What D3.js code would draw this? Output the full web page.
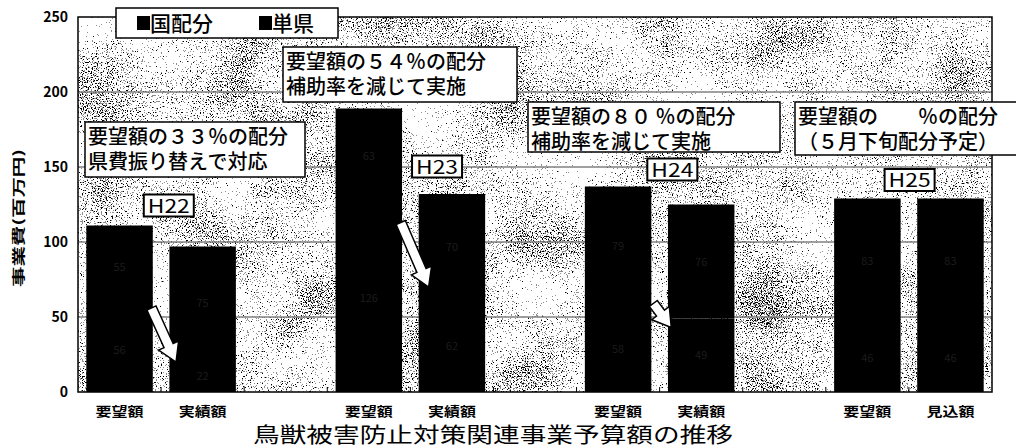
<!DOCTYPE html>
<html lang="ja">
<head>
<meta charset="utf-8">
<script src="https://cdn.jsdelivr.net/npm/d3@7/dist/d3.min.js"></script>
<style>
  html, body { margin: 0; padding: 0; background: #fff; }
  svg { display: block; }
  text { font-family: "Noto Sans CJK JP", "Noto Sans", sans-serif; }
</style>
</head>
<body>
<svg id="chart" width="1016" height="446"></svg>
<script>
// Slots along the x axis; the "gap" slots keep the fiscal-year pairs apart.
const slots = ["H22-要望額", "H22-実績額", "gap1",
               "H23-要望額", "H23-実績額", "gap2",
               "H24-要望額", "H24-実績額", "gap3",
               "H25-要望額", "H25-見込額"];
const tickLabels = ["要望額", "実績額", "", "要望額", "実績額", "", "要望額", "実績額", "", "要望額", "見込額"];

// 事業費 (百万円), stacked: 国配分 at the bottom, 単県 on top
const kuniHaibun = [56, 22, null, 126, 62, null, 58, 49, null, 46, 46];
const tanken     = [55, 75, null, 63, 70, null, 79, 76, null, 83, 83];

const seriesNames = ["国配分", "単県"];
const yTicks = [0, 50, 100, 150, 200, 250];

const yearLabels = [
  { text: "H22", slot: "H22-要望額", value: 117, dx: -9 },
  { text: "H23", slot: "H23-要望額", value: 143, dx: 10 },
  { text: "H24", slot: "H24-要望額", value: 141, dx: -4 },
  { text: "H25", slot: "H25-要望額", value: 134, dx: -16 }
];

const notes = [
  { lines: ["要望額の３３％の配分", "県費振り替えで対応"], x: 85, y: 122, w: 220, h: 55 },
  { lines: ["要望額の５４％の配分", "補助率を減じて実施"], x: 283, y: 47, w: 234, h: 55 },
  { lines: ["要望額の８０ ％の配分", "補助率を減じて実施"], x: 528, y: 102, w: 252, h: 50 },
  { lines: ["要望額の　　％の配分", "（５月下旬配分予定）"], x: 795, y: 102, w: 240, h: 53 }
];

// Arrows between request and result bars (band fraction + value on the y scale)
const arrows = [
  { from: ["H22-要望額", 0.98, 56], to: ["H22-実績額", 0.1, 20] },
  { from: ["H23-要望額", 0.98, 113], to: ["H23-実績額", 0.15, 70] },
  { from: ["H24-要望額", 1.03, 59], to: ["H24-実績額", 0.05, 43] }
];

const svg = d3.select("#chart");
const plot = { left: 78, right: 992, top: 17, bottom: 392 };

const x = d3.scaleBand().domain(slots).range([plot.left, plot.right])
  .paddingInner(0.2).paddingOuter(0.1);
const y = d3.scaleLinear().domain([0, 250]).range([plot.bottom, plot.top]);

// speckled plot background: fine grain, lightly modulated by broad patches
const defs = svg.append("defs");
const f = defs.append("filter").attr("id", "grain")
  .attr("x", 0).attr("y", 0).attr("width", "100%").attr("height", "100%")
  .attr("color-interpolation-filters", "sRGB");
const toGray = "1 0 0 0 0  1 0 0 0 0  1 0 0 0 0  0 0 0 0 1";
f.append("feTurbulence").attr("type", "fractalNoise").attr("baseFrequency", "0.8")
  .attr("numOctaves", 2).attr("seed", 7).attr("result", "t1");
f.append("feColorMatrix").attr("in", "t1").attr("type", "matrix").attr("values", toGray).attr("result", "g1");
f.append("feTurbulence").attr("type", "fractalNoise").attr("baseFrequency", "0.015")
  .attr("numOctaves", 3).attr("seed", 11).attr("result", "t2");
f.append("feColorMatrix").attr("in", "t2").attr("type", "matrix").attr("values", toGray).attr("result", "g2");
f.append("feComposite").attr("in", "g1").attr("in2", "g2").attr("operator", "arithmetic")
  .attr("k1", 0).attr("k2", 1).attr("k3", 0.35).attr("k4", -0.175).attr("result", "c");
f.append("feColorMatrix").attr("in", "c").attr("type", "matrix")
  .attr("values", "0 0 0 0 0  0 0 0 0 0  0 0 0 0 0  1.6 0 0 0 -0.36");
const ct = f.append("feComponentTransfer");
ct.append("feFuncA").attr("type", "discrete").attr("tableValues", "0 0 0 0 0 0.45 1 1");

svg.append("rect").attr("x", plot.left).attr("y", plot.top)
  .attr("width", plot.right - plot.left).attr("height", plot.bottom - plot.top)
  .attr("fill", "#fff");
svg.append("rect").attr("x", plot.left).attr("y", plot.top)
  .attr("width", plot.right - plot.left).attr("height", plot.bottom - plot.top)
  .attr("fill", "#000").attr("filter", "url(#grain)");

// gridlines
svg.append("g").selectAll("line").data(yTicks.filter(d => d > 0 && d < 250)).join("line")
  .attr("x1", plot.left).attr("x2", plot.right)
  .attr("y1", d => y(d)).attr("y2", d => y(d))
  .attr("stroke", "#808080").attr("stroke-width", 1.5);

// stacked bars
const rows = slots.map((s, i) => ({ slot: s, "国配分": kuniHaibun[i], "単県": tanken[i] }))
  .filter(r => r["国配分"] != null);
const stacked = d3.stack().keys(seriesNames)(rows);

const layer = svg.append("g").selectAll("g").data(stacked).join("g");
layer.selectAll("rect").data(d => d).join("rect")
  .attr("x", d => x(d.data.slot))
  .attr("width", x.bandwidth())
  .attr("y", d => y(d[1]))
  .attr("height", d => y(d[0]) - y(d[1]))
  .attr("fill", "#000");

// value labels inside the segments (dark on black)
layer.each(function (s) {
  d3.select(this).selectAll("text").data(s).join("text")
    .attr("x", d => x(d.data.slot) + x.bandwidth() / 2)
    .attr("y", d => y((d[0] + d[1]) / 2) + 4)
    .attr("text-anchor", "middle")
    .attr("font-size", 11)
    .attr("fill", "#1c1c1c")
    .text(d => d.data[s.key]);
});

// plot frame
svg.append("rect").attr("x", plot.left).attr("y", plot.top)
  .attr("width", plot.right - plot.left).attr("height", plot.bottom - plot.top)
  .attr("fill", "none").attr("stroke", "#000").attr("stroke-width", 1.5);

// small inner ticks on the category boundaries
const step = x.step();
svg.append("g").selectAll("line").data(slots.slice(1)).join("line")
  .attr("x1", d => x(d) - step * x.paddingInner() / 2)
  .attr("x2", d => x(d) - step * x.paddingInner() / 2)
  .attr("y1", plot.bottom).attr("y2", plot.bottom - 5)
  .attr("stroke", "#000").attr("stroke-width", 1);

// y axis
const yAxis = svg.append("g").attr("transform", `translate(${plot.left},0)`)
  .call(d3.axisLeft(y).tickValues(yTicks).tickSize(0).tickPadding(10));
yAxis.select(".domain").remove();
yAxis.selectAll("text").attr("font-family", "'Liberation Sans', Arial, sans-serif")
  .attr("font-weight", "bold").attr("font-size", 14).attr("fill", "#000");

// x axis labels
const xAxis = svg.append("g").attr("transform", `translate(0,${plot.bottom})`)
  .call(d3.axisBottom(x).tickSize(0).tickPadding(15).tickFormat((d, i) => tickLabels[i]));
xAxis.select(".domain").remove();
xAxis.selectAll("text").attr("font-weight", "bold").attr("font-size", 13).attr("fill", "#000")
  .attr("font-family", "'Noto Sans CJK JP', sans-serif")
  .each(function () { if (this.textContent) d3.select(this).attr("textLength", 48).attr("lengthAdjust", "spacingAndGlyphs"); });

// y axis title
svg.append("text")
  .attr("transform", "translate(23,218) rotate(-90)")
  .attr("text-anchor", "middle")
  .attr("font-weight", "bold").attr("font-size", 13)
  .attr("textLength", 138).attr("lengthAdjust", "spacingAndGlyphs")
  .text("事業費(百万円)");

// chart title under the axis
svg.append("text")
  .attr("x", 253).attr("y", 442)
  .attr("font-size", 21)
  .attr("textLength", 480).attr("lengthAdjust", "spacingAndGlyphs")
  .text("鳥獣被害防止対策関連事業予算額の推移");

// arrows
function pt(a) { return [x(a[0]) + x.bandwidth() * a[1], y(a[2])]; }
svg.append("g").selectAll("path").data(arrows).join("path")
  .attr("d", a => {
    const [x0, y0] = pt(a.from), [x1, y1] = pt(a.to);
    const dx = x1 - x0, dy = y1 - y0, L = Math.hypot(dx, dy);
    const ux = dx / L, uy = dy / L, nx = -uy, ny = ux;
    const hl = Math.min(18, L * 0.6), sw = 5, hw = 11;
    const bx = x1 - ux * hl, by = y1 - uy * hl;
    const p = [
      [x0 + nx * sw, y0 + ny * sw], [bx + nx * sw, by + ny * sw], [bx + nx * hw, by + ny * hw],
      [x1, y1],
      [bx - nx * hw, by - ny * hw], [bx - nx * sw, by - ny * sw], [x0 - nx * sw, y0 - ny * sw]
    ];
    return "M" + p.map(q => q.join(",")).join("L") + "Z";
  })
  .attr("fill", "#fff").attr("stroke", "#000").attr("stroke-width", 1.5);

// year labels
const yl = svg.append("g").selectAll("g").data(yearLabels).join("g")
  .attr("transform", d => `translate(${x(d.slot) + x.bandwidth() + d.dx},${y(d.value)})`);
yl.append("rect").attr("x", 0).attr("y", -22).attr("width", 50).attr("height", 22)
  .attr("fill", "#fff").attr("stroke", "#000").attr("stroke-width", 2);
yl.append("text").attr("x", 4).attr("y", -4)
  .attr("font-family", "'Liberation Sans', Arial, sans-serif").attr("font-size", 18)
  .attr("textLength", 42).attr("lengthAdjust", "spacingAndGlyphs")
  .text(d => d.text);

// note boxes
const nb = svg.append("g").selectAll("g").data(notes).join("g")
  .attr("transform", d => `translate(${d.x},${d.y})`);
nb.append("rect").attr("width", d => d.w).attr("height", d => d.h)
  .attr("fill", "#fff").attr("stroke", "#000").attr("stroke-width", 1.5);
nb.each(function (d) {
  d3.select(this).selectAll("text").data(d.lines).join("text")
    .attr("x", 3).attr("y", (l, i) => 22 + i * 25)
    .attr("font-size", 20).attr("font-weight", 500)
    .text(l => l);
});

// legend
const lg = svg.append("g").attr("transform", "translate(116,8)");
lg.append("rect").attr("width", 222).attr("height", 30)
  .attr("fill", "#fff").attr("stroke", "#000").attr("stroke-width", 1.5);
const li = lg.selectAll("g").data(seriesNames).join("g")
  .attr("transform", (d, i) => `translate(${i === 0 ? 21 : 143},0)`);
li.append("rect").attr("x", 0).attr("y", 8).attr("width", 13).attr("height", 14).attr("fill", "#000");
li.append("text").attr("x", 13).attr("y", 23).attr("font-size", 21).attr("font-weight", 500).text(d => d);
</script>
</body>
</html>
